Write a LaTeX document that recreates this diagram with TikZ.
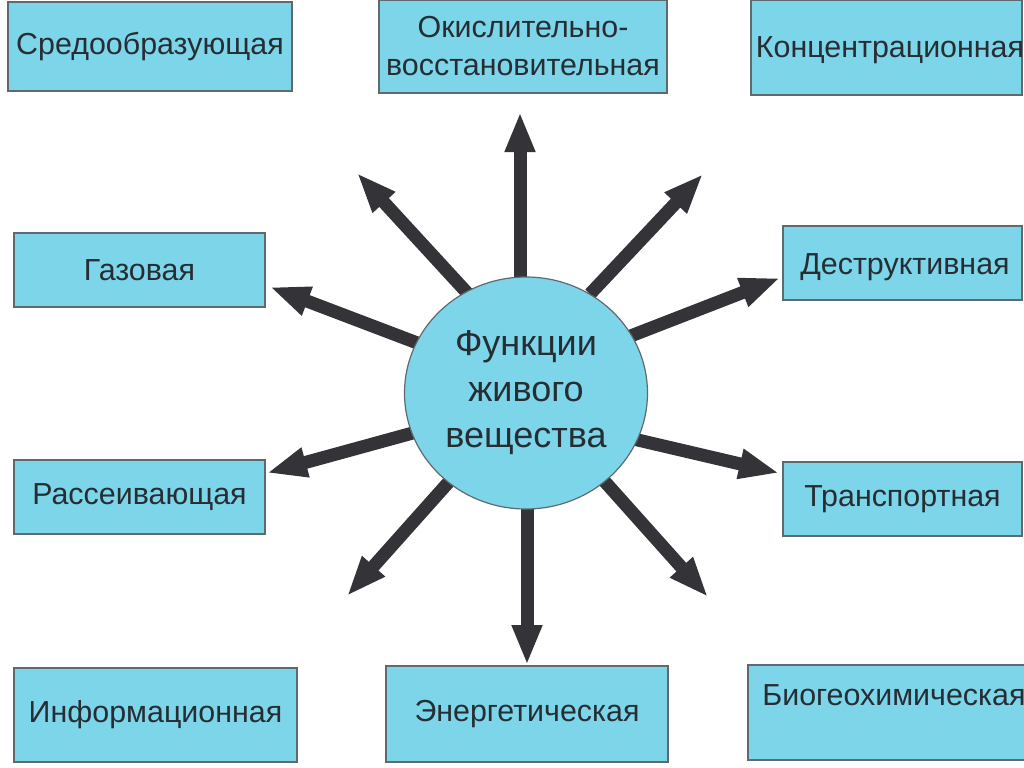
\documentclass[tikz,border=0pt]{standalone}
\usepackage{fontspec}
\setmainfont{Liberation Sans}
\usetikzlibrary{arrows.meta,shapes.geometric}
\definecolor{boxfill}{RGB}{125,213,233}
\definecolor{boxline}{RGB}{95,105,110}
\definecolor{arrowcol}{RGB}{52,52,56}
\definecolor{txt}{RGB}{38,46,52}
\begin{document}
\begin{tikzpicture}[x=0.5pt,y=-0.5pt,
  box/.style={draw=boxline, line width=0.6pt, fill=boxfill, inner sep=0pt, text=txt,
    font=\fontsize{15.2}{19}\selectfont, align=center},
  lbl/.style={inner sep=0pt, text=txt, font=\fontsize{15.2}{19}\selectfont},
  arr/.style={draw=arrowcol, line width=6.5pt, -{Triangle[length=20pt,width=14pt]}}]
\useasboundingbox (0,0) rectangle (1024,767);
\fill[white] (0,0) rectangle (1024,767);
% boxes
\node[box, minimum width=142pt, minimum height=44.5pt] (b1) at (150,46.5) {Средообразующая};
\node[box, minimum width=144pt, minimum height=46.5pt] (b2) at (523,46.5) {Окислительно-\\восстановительная};
\node[box, minimum width=135.5pt, minimum height=47.5pt] (b3) at (886.5,47.5) {};
\node[lbl] (t3) at (890,50) {Концентрационная};
\node[box, minimum width=125.5pt, minimum height=37pt] (b4) at (139.5,270) {Газовая};
\node[box, minimum width=119.5pt, minimum height=37pt] (b5) at (902.5,263) {};
\node[lbl] (t5) at (905,267) {Деструктивная};
\node[box, minimum width=125.5pt, minimum height=37pt] (b6) at (139.5,497) {Рассеивающая};
\node[box, minimum width=119.5pt, minimum height=37pt] (b7) at (902.5,499) {Транспортная};
\node[box, minimum width=141.5pt, minimum height=47pt] (b8) at (155.5,715) {Информационная};
\node[box, minimum width=141pt, minimum height=48pt] (b9) at (527,714) {Энергетическая};
\node[box, minimum width=141pt, minimum height=47.5pt] (b10) at (889,712.5) {};
\node[lbl, anchor=west] (t10) at (762,695) {Биогеохимическая};
% arrow coordinates
\coordinate (s1) at (520,290); \coordinate (e1) at (520,112);
\coordinate (s2) at (470,296); \coordinate (e2) at (357,173);
\coordinate (s3) at (420,344); \coordinate (e3) at (270,287);
\coordinate (s4) at (420,431); \coordinate (e4) at (267,473);
\coordinate (s5) at (455,475); \coordinate (e5) at (347,596);
\coordinate (s6) at (527,490); \coordinate (e6) at (527,665);
\coordinate (s7) at (598,474); \coordinate (e7) at (708,597);
\coordinate (s8) at (625,437); \coordinate (e8) at (779,473);
\coordinate (s9) at (628,337); \coordinate (e9) at (780,278);
\coordinate (s10) at (590,294); \coordinate (e10) at (703,174);
\foreach \i in {1,...,10} {\draw[arr] (s\i) -- (e\i);}
% centre
\node[draw=boxline, line width=0.6pt, fill=boxfill, ellipse, minimum width=121.5pt, minimum height=116pt,
  inner sep=0pt, text=txt, align=center, font=\fontsize{18}{23}\selectfont] (c) at (526,393)
  {Функции\\живого\\вещества};
\end{tikzpicture}
\end{document}
